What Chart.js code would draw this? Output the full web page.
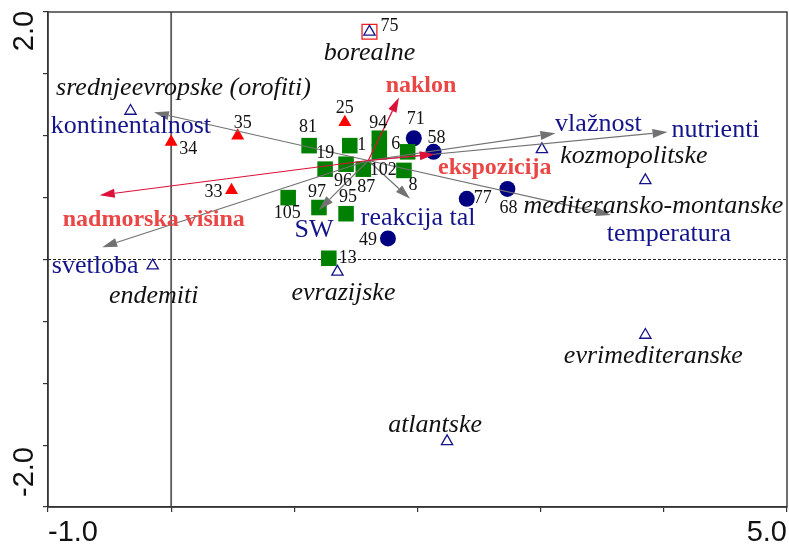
<!DOCTYPE html>
<html>
<head>
<meta charset="utf-8">
<script src="https://cdn.jsdelivr.net/npm/chart.js@4.4.1/dist/chart.umd.min.js"></script>
<style>
  body { margin: 0; background: #fff; }
  #wrap { width: 789px; height: 545px; }
</style>
</head>
<body>
<div id="wrap"><canvas id="biplot" width="789" height="545"></canvas></div>
<script>
// samples (green squares)
const squareIds = ['81', '1', '94', '102', '6', '8', '19', '96', '87', '97', '95', '105', '13'];
const squareX = [1.12, 1.45, 1.69, 1.69, 1.92, 1.89, 1.25, 1.42, 1.56, 1.20, 1.42, 0.95, 1.28];
const squareY = [0.92, 0.92, 0.98, 0.87, 0.87, 0.72, 0.73, 0.77, 0.73, 0.42, 0.37, 0.50, 0.01];

// samples (red triangles)
const redIds = ['25', '35', '34', '33'];
const redX = [1.41, 0.54, 0.00, 0.49];
const redY = [1.11, 1.00, 0.95, 0.56];

// samples (navy circles)
const circleIds = ['71', '58', '77', '68', '49'];
const circleX = [1.97, 2.13, 2.40, 2.73, 1.76];
const circleY = [0.98, 0.87, 0.49, 0.57, 0.17];

// boxed sample
const boxedIds = ['75'];
const boxedX = [1.61];
const boxedY = [1.84];

// chorological groups (open triangles)
const groupNames = ['borealne', 'srednjeevropske (orofiti)', 'kozmopolitske', 'mediteransko-montanske',
  'endemiti', 'evrazijske', 'evrimediteranske', 'atlantske'];
const groupX = [1.61, -0.33, 3.01, 3.85, -0.15, 1.35, 3.85, 2.24];
const groupY = [1.84, 1.20, 0.89, 0.64, -0.05, -0.10, -0.61, -1.47];

// environmental variables (red arrows)
const envNames = ['naklon', 'nadmorska višina', 'ekspozicija'];
const envX = [1.85, -0.58, 2.14];
const envY = [1.31, 0.52, 0.85];

// ecological indicator values (gray arrows)
const traitNames = ['kontinentalnost', 'svetloba', 'vlažnost', 'nutrienti', 'temperatura', 'SW', 'reakcija tal'];
const traitX = [-0.14, -0.56, 3.12, 4.03, 3.57, 1.20, 1.94];
const traitY = [1.19, 0.10, 1.02, 1.03, 0.36, 0.40, 0.49];

const arrowOrigin = [1.60, 0.80];

const xLabels = ['-1.0', '5.0'];
const yLabels = ['2.0', '-2.0'];

// label placement (pixels from the mark)
const squareOff = [[-1,-18],[12,0],[-1,-15],[4,18],[-12,-8],[9,15],[0,-16],[-3,17],[3,18],[-2,-15],[2,-16],[-1,16],[19,0]];
const redOff = [[0,-14],[5,-12],[17,7],[-18,2]];
const circleOff = [[2,-19],[3,-14],[16,-1],[1,19],[-20,2]];
const boxedOff = [[20,-6]];
const groupOff = [[0,21],[53,-23],[92,7],[8,26],[1,30],[6,21],[8,21],[-12,-16]];
const envOff = [[22,-12],[54,25],[60,13]];
const traitOff = [[-23,14],[-7,19],[43,-9],[48,-2],[58,19],[-5,20],[8,19]];

const NAVY = '#14148a';
const SERIF = '"Liberation Serif", "Times New Roman", serif';
const SANS = '"Liberation Sans", Arial, sans-serif';

function pts(xs, ys) {
  return xs.map((x, i) => ({ x: x, y: ys[i] }));
}

function drawArrow(ctx, x0, y0, x1, y1, color) {
  const ang = Math.atan2(y1 - y0, x1 - x0);
  const len = 15, hw = 4.5;
  const bx = x1 - Math.cos(ang) * len, by = y1 - Math.sin(ang) * len;
  ctx.strokeStyle = color;
  ctx.lineWidth = 1.2;
  ctx.beginPath();
  ctx.moveTo(x0, y0);
  ctx.lineTo(bx, by);
  ctx.stroke();
  ctx.fillStyle = color;
  ctx.beginPath();
  ctx.moveTo(x1, y1);
  ctx.lineTo(bx - Math.sin(ang) * hw, by + Math.cos(ang) * hw);
  ctx.lineTo(bx + Math.sin(ang) * hw, by - Math.cos(ang) * hw);
  ctx.closePath();
  ctx.fill();
}

const biplotPlugin = {
  id: 'biplot',
  beforeDatasetsDraw(chart) {
    const ctx = chart.ctx, a = chart.chartArea;
    const sx = chart.scales.x, sy = chart.scales.y;
    ctx.save();
    // x = 0 line
    const x0 = sx.getPixelForValue(0);
    ctx.strokeStyle = '#5a5a5a';
    ctx.lineWidth = 1.8;
    ctx.beginPath();
    ctx.moveTo(x0, a.top);
    ctx.lineTo(x0, a.bottom);
    ctx.stroke();
    // y = 0 dashed line
    const y0 = sy.getPixelForValue(0);
    ctx.strokeStyle = '#222';
    ctx.lineWidth = 1;
    ctx.setLineDash([3, 2]);
    ctx.beginPath();
    ctx.moveTo(a.left, y0);
    ctx.lineTo(a.right, y0);
    ctx.stroke();
    ctx.setLineDash([]);
    // frame
    ctx.strokeStyle = '#333';
    ctx.lineWidth = 1.4;
    ctx.strokeRect(a.left, a.top, a.right - a.left, a.bottom - a.top);
    ctx.restore();
  },
  afterDatasetsDraw(chart) {
    const ctx = chart.ctx, a = chart.chartArea;
    const sx = chart.scales.x, sy = chart.scales.y;
    ctx.save();
    const ox = sx.getPixelForValue(arrowOrigin[0]);
    const oy = sy.getPixelForValue(arrowOrigin[1]);

    // arrows
    traitX.forEach((v, i) => {
      drawArrow(ctx, ox, oy, sx.getPixelForValue(v), sy.getPixelForValue(traitY[i]), '#727272');
    });
    envX.forEach((v, i) => {
      drawArrow(ctx, ox, oy, sx.getPixelForValue(v), sy.getPixelForValue(envY[i]), '#dc1038');
    });

    ctx.textAlign = 'center';
    ctx.textBaseline = 'middle';

    // point labels
    chart.data.datasets.forEach((ds, di) => {
      const meta = chart.getDatasetMeta(di);
      ctx.font = ds.labelFont;
      ctx.fillStyle = ds.labelColor;
      meta.data.forEach((el, j) => {
        const off = ds.labelOff[j];
        ctx.fillText(ds.ids[j], el.x + off[0], el.y + off[1]);
      });
    });

    // arrow labels
    ctx.font = '26px ' + SERIF;
    ctx.fillStyle = NAVY;
    traitNames.forEach((n, i) => {
      ctx.fillText(n, sx.getPixelForValue(traitX[i]) + traitOff[i][0], sy.getPixelForValue(traitY[i]) + traitOff[i][1]);
    });
    ctx.font = 'bold 24px ' + SERIF;
    ctx.fillStyle = '#ea4646';
    envNames.forEach((n, i) => {
      ctx.fillText(n, sx.getPixelForValue(envX[i]) + envOff[i][0], sy.getPixelForValue(envY[i]) + envOff[i][1]);
    });

    // axis end labels
    ctx.fillStyle = '#111';
    ctx.font = '29px ' + SANS;
    ctx.textBaseline = 'alphabetic';
    ctx.textAlign = 'left';
    ctx.fillText(xLabels[0], a.left, 541);
    ctx.textAlign = 'right';
    ctx.fillText(xLabels[1], a.right, 541);
    ctx.textAlign = 'center';
    [[yLabels[0], 31], [yLabels[1], 472]].forEach(([t, cy]) => {
      ctx.save();
      ctx.translate(33, cy);
      ctx.rotate(-Math.PI / 2);
      ctx.fillText(t, 0, 0);
      ctx.restore();
    });
    ctx.restore();
  }
};

const chart = new Chart(document.getElementById('biplot'), {
  type: 'scatter',
  data: {
    datasets: [
      {
        data: pts(groupX, groupY), ids: groupNames, labelOff: groupOff,
        labelFont: 'italic 26px ' + SERIF, labelColor: '#111',
        pointStyle: 'triangle', pointRadius: 6.5,
        backgroundColor: 'rgba(255,255,255,0)', borderColor: NAVY, borderWidth: 1.3
      },
      {
        data: pts(boxedX, boxedY), ids: boxedIds, labelOff: boxedOff,
        labelFont: '18px ' + SERIF, labelColor: '#111',
        pointStyle: 'rect', pointRadius: 10.5,
        backgroundColor: 'rgba(255,255,255,0)', borderColor: '#f01e1e', borderWidth: 1.3
      },
      {
        data: pts(squareX, squareY), ids: squareIds, labelOff: squareOff,
        labelFont: '18px ' + SERIF, labelColor: '#111',
        pointStyle: 'rect', pointRadius: 11,
        backgroundColor: '#008000', borderColor: '#008000', borderWidth: 0
      },
      {
        data: pts(redX, redY), ids: redIds, labelOff: redOff,
        labelFont: '18px ' + SERIF, labelColor: '#111',
        pointStyle: 'triangle', pointRadius: 7.5,
        backgroundColor: '#ff0000', borderColor: '#ff0000', borderWidth: 0
      },
      {
        data: pts(circleX, circleY), ids: circleIds, labelOff: circleOff,
        labelFont: '18px ' + SERIF, labelColor: '#111',
        pointStyle: 'circle', pointRadius: 8,
        backgroundColor: '#000080', borderColor: '#000080', borderWidth: 0
      }
    ]
  },
  options: {
    responsive: false,
    animation: false,
    events: [],
    layout: { padding: { top: 12, right: 2, left: 0, bottom: 0 }, autoPadding: false },
    plugins: {
      legend: { display: false },
      tooltip: { enabled: false }
    },
    scales: {
      x: {
        type: 'linear',
        min: -1,
        max: 5,
        ticks: { stepSize: 1, display: false },
        grid: { drawOnChartArea: false, drawTicks: true, tickLength: 5, color: '#333', lineWidth: 1.2 },
        border: { display: true, color: '#333', width: 1.4 },
        afterFit: (s) => { s.height = 38; }
      },
      y: {
        type: 'linear',
        min: -2,
        max: 2,
        ticks: { stepSize: 0.5, display: false },
        grid: { drawOnChartArea: false, drawTicks: true, tickLength: 5, color: '#333', lineWidth: 1.2 },
        border: { display: true, color: '#333', width: 1.4 },
        afterFit: (s) => { s.width = 48; }
      }
    }
  },
  plugins: [biplotPlugin]
});
</script>
</body>
</html>
